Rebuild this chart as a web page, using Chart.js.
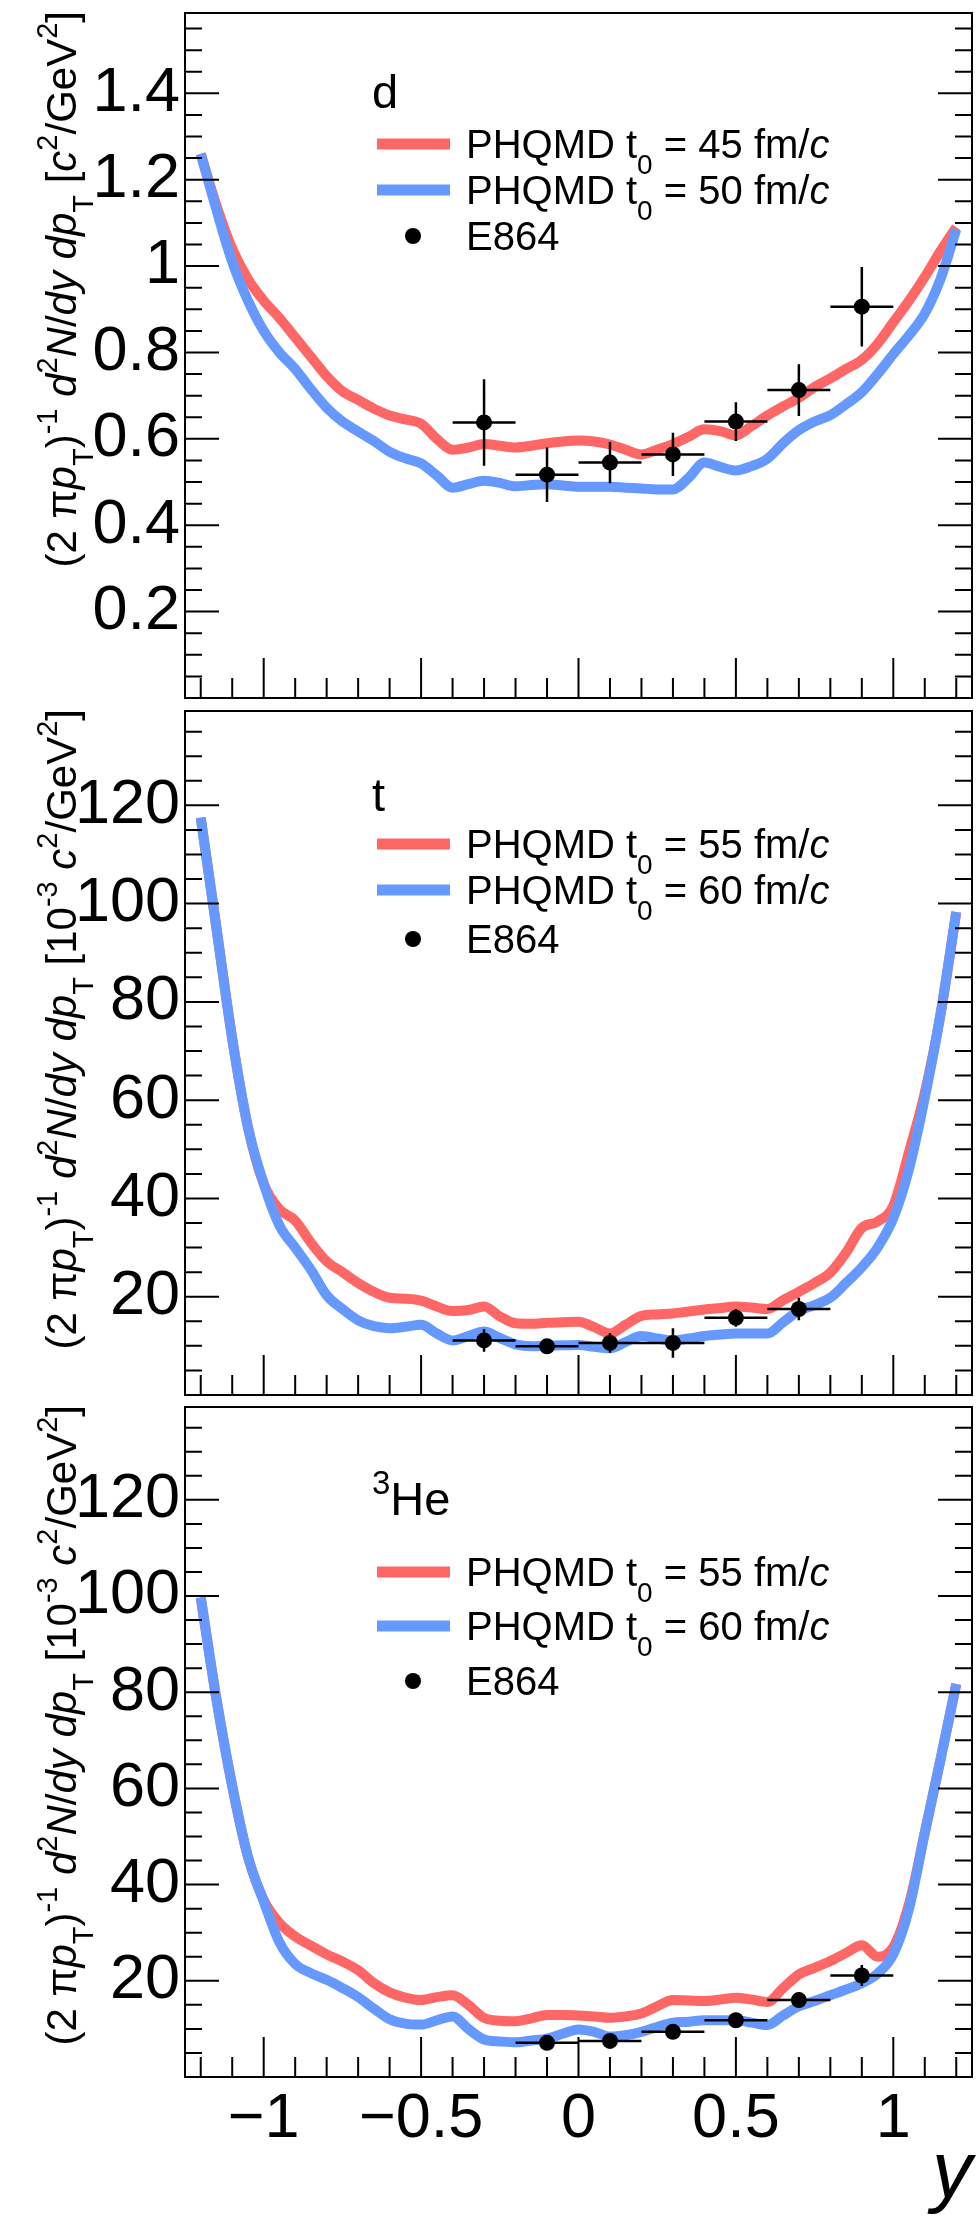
<!DOCTYPE html>
<html lang="en">

<head>
    <meta charset="UTF-8">
    <title>PHQMD vs E864 - d, t, 3He rapidity spectra</title>
    <script src="https://cdn.jsdelivr.net/npm/chart.js"></script>
    <style>
        body {
            margin: 0;
            background: #fff;
            width: 980px;
            height: 2227px;
            position: relative;
            overflow: hidden;
        }

        canvas {
            position: absolute;
            left: 0;
        }
    </style>
</head>

<body>

    <canvas id="panelD" width="980" height="706" style="top:0px"></canvas>
    <canvas id="panelT" width="980" height="700" style="top:703px"></canvas>
    <canvas id="panelHe" width="980" height="828" style="top:1399px"></canvas>

    <script>
        // rapidity grid of the PHQMD curves
        const rapidity = [-1.2, -1.15, -1.1, -1.05, -1, -0.95, -0.9, -0.85, -0.8, -0.75, -0.7, -0.65, -0.6, -0.55, -0.5,
            -0.45, -0.4, -0.35, -0.3, -0.25, -0.2, -0.15, -0.1, -0.05, 0, 0.05, 0.1, 0.15, 0.2, 0.25, 0.3, 0.35, 0.4,
            0.45, 0.5, 0.55, 0.6, 0.65, 0.7, 0.75, 0.8, 0.85, 0.9, 0.95, 1, 1.05, 1.1, 1.15, 1.2];

        // deuterons, c^2/GeV^2
        const d45 = [1.26, 1.14, 1.04, 0.97, 0.92, 0.88, 0.835, 0.79, 0.745, 0.71, 0.69, 0.67, 0.654, 0.645, 0.635,
            0.60, 0.575, 0.58, 0.588, 0.584, 0.58, 0.584, 0.59, 0.594, 0.596, 0.594, 0.587, 0.575, 0.564, 0.575, 0.588,
            0.605, 0.622, 0.618, 0.608, 0.63, 0.654, 0.675, 0.695, 0.72, 0.74, 0.762, 0.783, 0.82, 0.87, 0.92, 0.975,
            1.035, 1.09];
        const d50 = [1.26, 1.13, 1.01, 0.92, 0.85, 0.80, 0.762, 0.715, 0.672, 0.64, 0.617, 0.595, 0.57, 0.555, 0.543,
            0.515, 0.487, 0.495, 0.503, 0.498, 0.49, 0.493, 0.495, 0.492, 0.489, 0.489, 0.489, 0.487, 0.485, 0.483,
            0.483, 0.51, 0.545, 0.535, 0.527, 0.537, 0.554, 0.59, 0.62, 0.64, 0.655, 0.68, 0.708, 0.75, 0.796, 0.84,
            0.89, 0.97, 1.085];

        // tritons, 10^-3 c^2/GeV^2
        const t55 = [117.5, 95, 72.5, 54.5, 43, 37.8, 35.5, 31, 27.2, 25, 22.8, 21, 19.8, 19.6, 19.2, 18, 17.1, 17.3,
            18, 16, 14.6, 14.5, 14.7, 14.8, 14.9, 13.8, 12.5, 14.3, 16.1, 16.4, 16.6, 17, 17.4, 17.7, 18, 17.8, 17.5,
            19.3, 21, 22.8, 24.9, 29, 34, 35.3, 38.5, 49.5, 61.5, 77.5, 98.3];
        const t60 = [117.5, 95, 72.5, 54.5, 43, 34.5, 30, 25.5, 20.3, 17.5, 15.2, 14, 13.6, 13.9, 14.3, 12.5, 11.1, 12,
            12.9, 11.6, 10.3, 9.9, 10, 10.1, 10.2, 9.8, 9.5, 10.8, 12, 11.5, 11.1, 11.5, 12, 12.3, 12.5, 12.5, 12.5,
            14.8, 17.1, 18.3, 19.8, 22.8, 26, 30, 36, 46, 60.5, 77.5, 98.3];

        // 3He, 10^-3 c^2/GeV^2
        const he55 = [99.7, 78.5, 60.5, 45.8, 36.8, 32, 29.2, 27.3, 25.5, 24, 22.2, 19.5, 17.6, 16.5, 16, 16.6, 17, 15,
            12.3, 11.7, 11.6, 12.2, 12.9, 12.9, 12.8, 12.6, 12.3, 12.6, 13.2, 14.7, 16, 15.9, 15.8, 16.1, 16.5, 16.1,
            15.6, 18.5, 21.3, 22.7, 24.1, 25.8, 27.4, 25, 27, 36, 50.8, 66, 81.7];
        const he60 = [99.7, 78.5, 60.5, 45.8, 36.5, 28, 23.5, 21.6, 20.2, 18.5, 16.6, 14.2, 12, 11.1, 10.9, 11.8, 12.6,
            10, 7.8, 7.4, 7.2, 7.6, 8, 9, 9.9, 9.4, 8.4, 8.7, 9.4, 10.4, 11.3, 11.5, 11.8, 11.8, 11.8, 11.3, 10.8, 12.8,
            14.7, 15.8, 17, 18.2, 19.5, 21.5, 25.5, 35, 50.8, 66, 81.7];

        // E864 data (rapidity bin width +-0.1)
        const e864DY = [-0.3, -0.1, 0.1, 0.3, 0.5, 0.7, 0.9];
        const e864D = [0.638, 0.517, 0.545, 0.564, 0.64, 0.713, 0.906];
        const e864DErr = [0.1, 0.063, 0.048, 0.05, 0.045, 0.06, 0.092];

        const e864TY = [-0.3, -0.1, 0.1, 0.3, 0.5, 0.7];
        const e864T = [11.1, 9.9, 10.6, 10.6, 15.7, 17.5];
        const e864TErr = [2.3, 1.2, 2.0, 3.0, 1.8, 2.3];

        const e864HeY = [-0.1, 0.1, 0.3, 0.5, 0.7, 0.9];
        const e864He = [7.1, 7.5, 9.4, 11.8, 16.0, 21.1];
        const e864HeErr = [0.8, 0.8, 1.0, 1.2, 1.5, 2.2];
        const e864XErr = 0.1;

        // axes
        const xTickVals = [-1, -0.5, 0, 0.5, 1];
        const yTicksD = [0.2, 0.4, 0.6, 0.8, 1, 1.2, 1.4];
        const yTicksA = [20, 40, 60, 80, 100, 120];

        const FONT = '"Liberation Sans", Arial, Helvetica, sans-serif';
        const RED = '#ff6666';
        const BLUE = '#6699ff';

        // rich text pieces: [text, style] with style n / i / sup / sub
        const titleD = [['(2 ', 'n'], ['\u03c0', 'n'], ['p', 'i'], ['T', 'sub'], [')', 'n'], ['-1', 'sup'], [' ', 'n'],
            ['d', 'i'], ['2', 'sup'], ['N', 'i'], ['/', 'n'], ['dy', 'i'], [' ', 'n'], ['dp', 'i'], ['T', 'sub'],
            [' [', 'n'], ['c', 'i'], ['2', 'sup'], ['/GeV', 'n'], ['2', 'sup'], [']', 'n']];
        const titleA = [['(2 ', 'n'], ['\u03c0', 'n'], ['p', 'i'], ['T', 'sub'], [')', 'n'], ['-1', 'sup'], [' ', 'n'],
            ['d', 'i'], ['2', 'sup'], ['N', 'i'], ['/', 'n'], ['dy', 'i'], [' ', 'n'], ['dp', 'i'], ['T', 'sub'],
            [' [10', 'n'], ['-3', 'sup'], [' ', 'n'], ['c', 'i'], ['2', 'sup'], ['/GeV', 'n'], ['2', 'sup'], [']', 'n']];

        const panels = [
            {
                canvas: 'panelD', padTop: 13, padBottom: 1, yMax: 1.586, yTicks: yTicksD, yMajor: 0.2, yMinor: 0.05,
                red: d45, blue: d50, ptY: e864DY, ptV: e864D, ptE: e864DErr, t0: [45, 50],
                name: [['d', 'n']], title: titleD, nameY: 95, rows: [131, 177, 223], showX: false, xH: 0
            },
            {
                canvas: 'panelT', padTop: 2, padBottom: 2, yMax: 139.2, yTicks: yTicksA, yMajor: 20, yMinor: 5,
                red: t55, blue: t60, ptY: e864TY, ptV: e864T, ptE: e864TErr, t0: [55, 60],
                name: [['t', 'n']], title: titleA, nameY: 100, rows: [133, 179, 228], showX: false, xH: 0
            },
            {
                canvas: 'panelHe', padTop: 2, padBottom: 0, yMax: 139.3, yTicks: yTicksA, yMajor: 20, yMinor: 5,
                red: he55, blue: he60, ptY: e864HeY, ptV: e864He, ptE: e864HeErr, t0: [55, 60],
                name: [['3', 'sup'], ['He', 'n']], title: titleA, nameY: 108, rows: [165, 219, 274], showX: true, xH: 150
            }
        ];

        function fontFor(style, size) {
            const small = style === 'sup' || style === 'sub';
            return (style === 'i' ? 'italic ' : '') + Math.round(small ? size * 0.7 : size) + 'px ' + FONT;
        }

        function richWidth(ctx, parts, size) {
            let w = 0;
            parts.forEach(([t, st]) => {
                ctx.font = fontFor(st, size);
                w += ctx.measureText(t).width;
            });
            return w;
        }

        function drawRich(ctx, parts, x, y, size) {
            let cx = x;
            ctx.textAlign = 'left';
            ctx.textBaseline = 'alphabetic';
            parts.forEach(([t, st]) => {
                ctx.font = fontFor(st, size);
                const dy = st === 'sup' ? -size * 0.45 : st === 'sub' ? size * 0.4 : 0;
                ctx.fillText(t, cx, y + dy);
                cx += ctx.measureText(t).width;
            });
        }

        function isMajor(v, step) {
            const r = v / step;
            return Math.abs(r - Math.round(r)) < 1e-6;
        }

        // ROOT-like frame, inward ticks, error bars, legend and y title
        function rootPlugin(p) {
            return {
                id: 'rootStyle',
                afterDatasetsDraw(chart) {
                    const { ctx, chartArea: a, scales: { x, y } } = chart;
                    ctx.save();

                    // error bars
                    ctx.strokeStyle = '#000';
                    ctx.lineWidth = 2.5;
                    ctx.beginPath();
                    p.ptY.forEach((yv, i) => {
                        const px = x.getPixelForValue(yv);
                        const py = y.getPixelForValue(p.ptV[i]);
                        ctx.moveTo(x.getPixelForValue(yv - e864XErr), py);
                        ctx.lineTo(x.getPixelForValue(yv + e864XErr), py);
                        ctx.moveTo(px, y.getPixelForValue(p.ptV[i] - p.ptE[i]));
                        ctx.lineTo(px, y.getPixelForValue(p.ptV[i] + p.ptE[i]));
                    });
                    ctx.stroke();

                    // ticks
                    ctx.lineWidth = 2;
                    ctx.beginPath();
                    for (let k = 1; k * p.yMinor < p.yMax; k++) {
                        const v = k * p.yMinor;
                        const py = y.getPixelForValue(v);
                        const len = isMajor(v, p.yMajor) ? 34 : 17;
                        ctx.moveTo(a.left, py);
                        ctx.lineTo(a.left + len, py);
                        ctx.moveTo(a.right, py);
                        ctx.lineTo(a.right - len, py);
                    }
                    for (let k = -12; k <= 12; k++) {
                        const px = x.getPixelForValue(k / 10);
                        const len = k % 5 === 0 ? 40 : 20;
                        ctx.moveTo(px, a.bottom);
                        ctx.lineTo(px, a.bottom - len);
                    }
                    ctx.stroke();
                    ctx.strokeRect(a.left, a.top, a.right - a.left, a.bottom - a.top);

                    // species label and legend
                    ctx.fillStyle = '#000';
                    drawRich(ctx, p.name, 372, a.top + p.nameY, 47);
                    const cols = [RED, BLUE];
                    ctx.lineWidth = 11;
                    cols.forEach((c, i) => {
                        const ly = a.top + p.rows[i];
                        ctx.strokeStyle = c;
                        ctx.beginPath();
                        ctx.moveTo(377, ly);
                        ctx.lineTo(450, ly);
                        ctx.stroke();
                        drawRich(ctx, [['PHQMD t', 'n'], ['0', 'sub'], [' = ' + p.t0[i] + ' fm/', 'n'], ['c', 'i']],
                            466, ly + 14, 40);
                    });
                    const dy = a.top + p.rows[2];
                    ctx.beginPath();
                    ctx.arc(413, dy, 8, 0, Math.PI * 2);
                    ctx.fill();
                    drawRich(ctx, [['E864', 'n']], 466, dy + 14, 40);

                    // rotated y title, right-aligned to the top of the axis
                    const w = richWidth(ctx, p.title, 42);
                    ctx.translate(76, a.top - 2 + w);
                    ctx.rotate(-Math.PI / 2);
                    drawRich(ctx, p.title, 0, 0, 42);

                    ctx.restore();
                }
            };
        }

        function fmtX(v) {
            return v < 0 ? '\u2212' + Math.abs(v) : String(v);
        }

        function pairs(xs, ys) {
            return ys.map((v, i) => ({ x: xs[i], y: v }));
        }

        panels.forEach(p => {
            const ctx = document.getElementById(p.canvas).getContext('2d');
            new Chart(ctx, {
                type: 'scatter',
                data: {
                    datasets: [
                        {
                            label: 'E864',
                            data: pairs(p.ptY, p.ptV),
                            showLine: false,
                            pointRadius: 8,
                            pointBackgroundColor: '#000',
                            pointBorderWidth: 0
                        },
                        {
                            label: 'PHQMD t0 = ' + p.t0[1] + ' fm/c',
                            data: pairs(rapidity, p.blue),
                            showLine: true,
                            borderColor: BLUE,
                            borderWidth: 10,
                            pointRadius: 0,
                            cubicInterpolationMode: 'monotone',
                            borderJoinStyle: 'round'
                        },
                        {
                            label: 'PHQMD t0 = ' + p.t0[0] + ' fm/c',
                            data: pairs(rapidity, p.red),
                            showLine: true,
                            borderColor: RED,
                            borderWidth: 10,
                            pointRadius: 0,
                            cubicInterpolationMode: 'monotone',
                            borderJoinStyle: 'round'
                        }
                    ]
                },
                options: {
                    responsive: false,
                    animation: false,
                    events: [],
                    layout: { padding: { top: p.padTop, bottom: p.padBottom, left: 0, right: 2 } },
                    plugins: { legend: { display: false }, tooltip: { enabled: false } },
                    scales: {
                        x: {
                            type: 'linear',
                            min: -1.25,
                            max: 1.25,
                            display: p.showX,
                            grid: { display: false, drawTicks: false },
                            border: { display: false },
                            afterBuildTicks: s => { s.ticks = xTickVals.map(v => ({ value: v })); },
                            afterFit: s => { s.height = p.xH; s.paddingLeft = 0; s.paddingRight = 0; },
                            ticks: {
                                autoSkip: false,
                                maxRotation: 0,
                                padding: 5,
                                color: '#000',
                                font: { family: FONT, size: 63 },
                                callback: v => fmtX(v)
                            },
                            title: {
                                display: p.showX,
                                text: 'y',
                                align: 'end',
                                color: '#000',
                                font: { family: FONT, size: 80, style: 'italic' },
                                padding: { top: 0, bottom: 4 }
                            }
                        },
                        y: {
                            type: 'linear',
                            min: 0,
                            max: p.yMax,
                            grid: { display: false, drawTicks: false },
                            border: { display: false },
                            afterBuildTicks: s => { s.ticks = p.yTicks.map(v => ({ value: v })); },
                            afterFit: s => { s.width = 185; s.paddingTop = 0; s.paddingBottom = 0; },
                            ticks: {
                                padding: 5,
                                color: '#000',
                                font: { family: FONT, size: 63 },
                                callback: v => String(v)
                            }
                        }
                    }
                },
                plugins: [rootPlugin(p)]
            });
        });
    </script>

</body>

</html>
